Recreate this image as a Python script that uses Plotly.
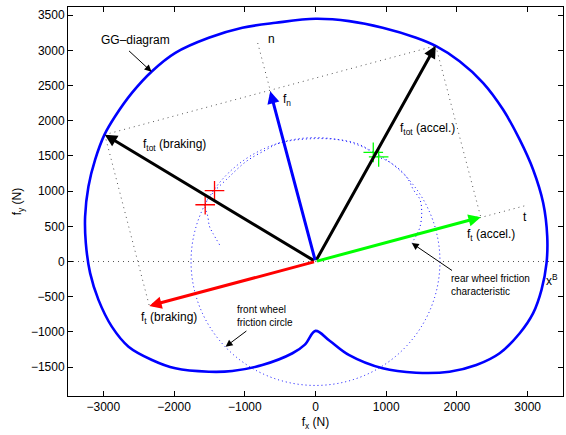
import plotly.graph_objects as go

# ---------------- data ----------------
x_ticks = [-3000, -2000, -1000, 0, 1000, 2000, 3000]
y_ticks = [-1500, -1000, -500, 0, 500, 1000, 1500, 2000, 2500, 3000, 3500]

# GG-diagram boundary (starts and ends at the cusp)
gg_x = [0, 200, 477, 950, 1423, 1895, 2274, 2604, 2888, 3078, 3196, 3267, 3277, 3220,
        3078, 2888, 2652, 2369, 2037, 1706, 1423, 950, 477, 0, -563, -1035, -1509,
        -1982, -2312, -2596, -2833, -2984, -3116, -3211, -3258, -3248, -3187, -3069,
        -2880, -2644, -2312, -1982, -1509, -1177, -752, -326, -150, 0]
gg_y = [-985, -1125, -1330, -1517, -1579, -1565, -1470, -1303, -1019, -734, -403, -23, 356, 831,
        1304, 1731, 2158, 2538, 2845, 3058, 3178, 3320, 3414, 3448, 3391, 3320, 3178,
        2964, 2703, 2395, 2063, 1802, 1447, 1067, 640, 262, -165, -545,
        -925, -1209, -1398, -1517, -1565, -1555, -1470, -1303, -1180, -985]

# front wheel friction circle radius
front_radius = 1760

# rear wheel friction characteristic
rear_x = [-1356, -1452, -1499, -1523, -1560, -1452, -1262, -979, -695, -506, -34, 440,
          675, 851, 1030, 1220, 1314, 1384, 1478, 1502, 1479, 1432, 1361]
rear_y = [237, 404, 498, 640, 806, 973, 1162, 1422, 1589, 1684, 1745, 1715,
          1636, 1504, 1422, 1280, 1162, 1020, 878, 688, 498, 380, 262]

# markers
red_cross_x = [-1428, -1560]
red_cross_y = [1006, 806]
green_cross_x = [817, 893]
green_cross_y = [1550, 1485]

# force vectors (tips, from origin)
origin = [0, 0]
f_t_accel = [2337, 630]
f_t_brake = [-2350, -630]
f_n = [-640, 2418]
f_tot_accel = [1700, 3064]
f_tot_brake = [-2980, 1802]
t_axis_end = [2990, 800]
n_axis_end = [-828, 3144]
x_range = [-3500, 3500]
y_range = [-1910, 3615]

# pointer arrows
gg_ptr_tail = [-2658, 3011]
gg_ptr_tip = [-2318, 2695]
rear_ptr_tail = [1952, -142]
rear_ptr_tip = [1361, 262]
front_ptr_tail = [-956, -971]
front_ptr_tip = [-1272, -1209]

# ------------------------------------------------------------
FONT = "Liberation Sans, Arial, Helvetica, sans-serif"
GRAYDOT = "#555555"
fig = go.Figure()

def dotted(xs, ys, color=GRAYDOT, dash="1px,4px", width=1, shape="linear"):
    fig.add_trace(go.Scatter(x=xs, y=ys, mode="lines", hoverinfo="skip",
                             line=dict(color=color, width=width, dash=dash, shape=shape),
                             showlegend=False))

# gray dotted helper lines
dotted(x_range, [0, 0])
dotted([origin[0], t_axis_end[0]], [origin[1], t_axis_end[1]])
dotted([origin[0], n_axis_end[0]], [origin[1], n_axis_end[1]])
dotted([f_tot_brake[0], f_tot_accel[0]], [f_tot_brake[1], f_tot_accel[1]])
dotted([f_tot_brake[0], f_t_brake[0]], [f_tot_brake[1], f_t_brake[1]])
dotted([f_tot_accel[0], f_t_accel[0]], [f_tot_accel[1], f_t_accel[1]])

# front wheel friction circle
fig.add_shape(type="circle", xref="x", yref="y", layer="below",
              x0=-front_radius, y0=-front_radius, x1=front_radius, y1=front_radius,
              line=dict(color="#0000ff", width=1, dash="1px,3px"))

# rear wheel characteristic
dotted(rear_x, rear_y, color="#0000ff", dash="1px,3px", shape="spline")

# GG diagram
fig.add_trace(go.Scatter(x=gg_x, y=gg_y, mode="lines", hoverinfo="skip",
                         line=dict(color="#0000ff", width=2.6, shape="spline", smoothing=1.0),
                         showlegend=False))

# crosses
fig.add_trace(go.Scatter(x=red_cross_x, y=red_cross_y, mode="markers", showlegend=False,
                         hoverinfo="skip",
                         marker=dict(symbol="cross-thin", size=14,
                                     line=dict(color="#ff0000", width=1.3))))
fig.add_trace(go.Scatter(x=green_cross_x, y=green_cross_y, mode="markers", showlegend=False,
                         hoverinfo="skip",
                         marker=dict(symbol="cross-thin", size=14,
                                     line=dict(color="#00ff00", width=1.3))))

# arrows
def arrow(tip, tail, color, width=3, head=2, size=0.82):
    fig.add_annotation(x=tip[0], y=tip[1], ax=tail[0], ay=tail[1], xref="x", yref="y",
                       axref="x", ayref="y", showarrow=True, text="",
                       arrowcolor=color, arrowwidth=width, arrowhead=head, arrowsize=size)

arrow(f_tot_brake, origin, "#000000")
arrow(f_tot_accel, origin, "#000000")
arrow(f_n, origin, "#0000ff")
arrow(f_t_accel, origin, "#00ff00")
arrow(f_t_brake, origin, "#ff0000")

arrow(gg_ptr_tip, gg_ptr_tail, "#000000", width=1, head=2, size=1.4)
arrow(rear_ptr_tip, rear_ptr_tail, "#000000", width=1, head=2, size=1.4)
arrow(front_ptr_tip, front_ptr_tail, "#000000", width=1, head=2, size=1.4)

# labels
def label(x, y, text, size=12, xanchor="left", yanchor="middle", align="left"):
    fig.add_annotation(x=x, y=y, xref="x", yref="y", text=text, showarrow=False,
                       xanchor=xanchor, yanchor=yanchor, align=align,
                       font=dict(family=FONT, size=size, color="#000000"))

label(-2549, 3144, "GG\u2013diagram", xanchor="center")
label(-2470, 1650, "f<sub>tot</sub> (braking)")
label(-490, 2300, "f<sub>n</sub>")
label(1172, 1880, "f<sub>tot</sub> (accel.)")
label(2108, 380, "f<sub>t</sub> (accel.)")
label(-2492, -800, "f<sub>t</sub> (braking)")
label(-700, 3154, "n")
label(2969, 631, "t", xanchor="center")
label(3225, -260, "x<sup>B</sup>")
label(1891, -336, "rear wheel friction<br>characteristic", size=10)
label(-1145, -778, "front wheel<br>friction circle", size=10)

axis_common = dict(showgrid=False, zeroline=False, showline=True, linecolor="#000000",
                   linewidth=1, mirror="ticks", ticks="inside", ticklen=5, tickcolor="#000000",
                   tickfont=dict(family=FONT, size=12, color="#000000"))
fig.update_xaxes(range=x_range, tickvals=x_ticks,
                 ticktext=[str(v).replace("-", "\u2212") for v in x_ticks],
                 title=dict(text="f<sub>x</sub> (N)", font=dict(family=FONT, size=12, color="#000000"),
                            standoff=4), **axis_common)
fig.update_yaxes(range=y_range, tickvals=y_ticks,
                 ticktext=[str(v).replace("-", "\u2212") for v in y_ticks],
                 title=dict(text="f<sub>y</sub> (N)", font=dict(family=FONT, size=12, color="#000000"),
                            standoff=6), **axis_common)
fig.update_layout(width=566, height=435, margin=dict(l=68, r=3, t=7, b=39, autoexpand=False),
                  paper_bgcolor="white", plot_bgcolor="white", showlegend=False)

fig.write_html("out.html", config={"displayModeBar": False},
               post_script="document.body.style.margin='0px';document.body.style.overflow='hidden';")
